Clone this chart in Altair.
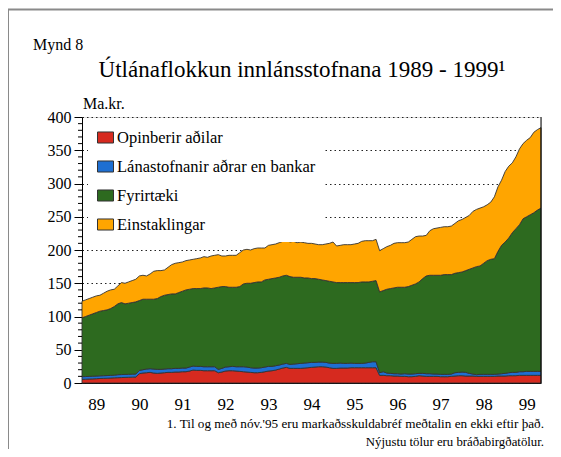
import altair as alt
import pandas as pd

# ---- categories & colours ----
flokkar = ["Opinberir aðilar", "Lánastofnanir aðrar en bankar", "Fyrirtæki", "Einstaklingar"]
litir = ["#d62a1f", "#1e6fd2", "#2d6a1f", "#ffa500"]

# ---- monthly values, Feb 1989 - Oct 1999 (Ma.kr.) ----
opinberir = [
    5.5, 5.7, 6, 6.2, 6.5, 6.8, 7, 7.2, 7.5, 7.8,
    8, 8.2, 8.4, 8.6, 8.8, 9, 14,
    15, 15.5, 16,
    15, 14.5, 15, 15.5, 16, 16, 16.5, 16.5, 17, 17,
    18, 19.5, 19, 19, 18.5, 18.5, 18.5, 18.5,
    15.5, 16.5, 18, 18.5, 18.5, 18, 17.5,
    17, 16.5, 16, 15.5, 15.5, 16, 17, 18,
    18.5, 19.5, 21, 22.5, 23.5,
    22, 22, 22, 22, 22.5, 23, 23.5, 24, 24.5,
    24.5, 24, 23, 22, 22, 22.5,
    22.5, 22.5, 23, 23, 23, 23, 23, 23, 23, 23,
    11.5, 11.5, 11, 11, 10.5, 10.5, 10, 10, 9.5, 9.5,
    10, 11, 10.5, 10, 10, 10, 10, 9.5, 9.5, 9.5,
    10, 10.5, 11, 11, 10.5, 10.5, 10.5, 10, 10, 10,
    10, 10, 10, 10.5, 10.5, 10.5, 11, 11, 11, 11.5,
    11.5, 11.5, 11.5, 11.5, 11.5, 11.5,
]
lanastofnanir = [
    4, 4, 4, 4, 4, 4, 4, 4, 4, 4,
    4.5, 4.5, 4.5, 4.5, 4.5, 4.5, 5,
    5, 5.5, 5.5,
    6, 6, 5.5, 5.5, 5.5, 5.5, 5.5, 5.5, 5.5, 5.5,
    6, 6, 6, 6, 6, 6, 6, 6,
    5, 5.5, 6, 6, 6.5, 6.5, 7,
    7.5, 7.5, 7, 7, 7, 7, 7, 7,
    6.5, 6.5, 6, 6, 6,
    6, 6.5, 7, 7.5, 7.5, 7.5, 7.5, 7, 7,
    7, 7, 7, 7.5, 7.5, 7.5,
    7, 7, 7, 6.5, 6.5, 6.5, 7, 8, 9, 9,
    4, 5.5, 4, 3.5, 3.5, 3.5, 3.5, 4, 4, 4,
    4, 3.5, 4, 4, 4, 3.5, 3.5, 3.5, 3.5, 3.5,
    3.5, 5, 5, 5.5, 5.5, 4, 3, 2.5, 3, 3,
    3, 3, 3, 3, 3.5, 4, 4.5, 5, 5, 5.5,
    5.5, 6, 6, 6, 6, 6,
]
# read top edge of the green (Fyrirtaeki) band = sum of the three lower groups
summa_an_einstaklinga = [
    98, 100, 102, 104, 106, 108, 109, 110, 112, 115,
    119, 121, 119, 120, 121, 122, 124, 126, 126, 126,
    126, 127, 130, 132, 133, 134, 134, 136, 138, 140,
    141, 142, 142, 142, 143, 143, 142, 143, 144, 145,
    145, 144, 144, 144, 145, 149, 150, 150, 151, 152,
    152, 155, 156, 157, 158, 159, 161, 162, 160, 159,
    159, 159, 158, 158, 157, 157, 156, 155, 154, 153,
    152, 151, 151, 151, 151, 151, 151, 151, 152, 152,
    152, 153, 154, 137, 139, 141, 142, 143, 144, 144,
    144, 145, 147, 149, 152, 157, 161, 162, 162, 162,
    162, 163, 163, 163, 165, 166, 167, 169, 171, 173,
    175, 176, 180, 184, 186, 187, 198, 207, 212, 218,
    226, 232, 238, 247, 250, 253, 256, 260, 263,
]
# read top edge of the whole stack = total lending
heild = [
    123, 125, 127, 129, 131, 132, 135, 138, 140, 141,
    146, 151, 150, 152, 154, 156, 161, 162, 161, 164,
    168, 169, 169, 170, 174, 178, 180, 181, 182, 184,
    185, 186, 187, 188, 190, 189, 191, 192, 193, 191,
    191, 192, 192, 192, 196, 200, 201, 200, 202, 203,
    203, 203, 207, 208, 209, 211, 213, 215, 212, 213,
    211, 212, 211, 210, 210, 209, 208, 208, 209, 210,
    212, 206, 207, 208, 208, 208, 209, 210, 213, 214,
    214, 214, 216, 199, 202, 205, 207, 210, 211, 211,
    211, 212, 216, 220, 221, 221, 222, 229, 232, 233,
    234, 235, 235, 236, 240, 244, 246, 249, 252, 258,
    261, 263, 265, 268, 272, 280, 295, 305, 318, 326,
    331, 340, 352, 360, 365, 369, 377, 381, 384,
]

ar_merki = [1989.5 + i for i in range(11)]
y_merki = list(range(0, 401, 50))
minni_merki = [v for v in range(0, 401, 10) if v % 50 != 0]

n = len(heild)
timi = [1989 + (2 + k) / 12 for k in range(n)]  # end of month, Feb 1989 ...

rows = []
for k in range(n):
    o = opinberir[k]
    l = lanastofnanir[k]
    f = summa_an_einstaklinga[k] - o - l
    e = heild[k] - summa_an_einstaklinga[k]
    for i, (nafn, v) in enumerate(zip(flokkar, [o, l, f, e])):
        rows.append({"t": timi[k], "flokkur": nafn, "gildi": v, "rod": i})
df = pd.DataFrame(rows)

FONT = "Liberation Serif"
W, H = 459, 266

y_scale = alt.Scale(domain=[0, 400], nice=False)
y_axis = alt.Axis(values=y_merki, tickSize=8, tickColor="black",
                  grid=True, gridDash=[1.5, 3], gridColor="#222222",
                  gridWidth=1, title=None, domainColor="black",
                  labelFontSize=16, labelFont=FONT, labelColor="black",
                  labelPadding=3)

areas = alt.Chart(df).mark_area(stroke="#333333", strokeWidth=0.9, opacity=1).encode(
    x=alt.X("t:Q",
            scale=alt.Scale(domain=[timi[0], timi[-1]], nice=False, zero=False),
            axis=alt.Axis(values=ar_merki,
                          labelExpr="substring(toString(datum.value), 2, 4)",
                          tickSize=0, labelPadding=13, grid=False, title=None,
                          domainColor="black", labelFontSize=17, labelFont=FONT,
                          labelColor="black")),
    y=alt.Y("gildi:Q", stack="zero", scale=y_scale, axis=y_axis),
    color=alt.Color("flokkur:N",
                    scale=alt.Scale(domain=flokkar, range=litir),
                    legend=alt.Legend(title=None, orient="none", legendX=6, legendY=3,
                                      fillColor="white", padding=9, rowPadding=12,
                                      labelFont=FONT, labelFontSize=16.5, labelColor="black",
                                      labelLimit=320, labelOffset=3,
                                      symbolType="M-1,-0.69H1V0.69H-1Z", symbolSize=256,
                                      symbolStrokeColor="#333333", symbolStrokeWidth=1,
                                      symbolOpacity=1)),
    order=alt.Order("rod:Q"),
)

minor = alt.Chart(pd.DataFrame({"v": minni_merki})).mark_rule(color="black", strokeWidth=1).encode(
    y=alt.Y("v:Q", scale=y_scale, axis=y_axis),
    x=alt.value(-4), x2=alt.value(0),
)

one = pd.DataFrame({"a": [0]})
right_border = alt.Chart(one).mark_rule(color="black", strokeWidth=1).encode(
    x=alt.value(W), y=alt.value(0), y2=alt.value(H))
frame_top = alt.Chart(one).mark_rule(color="#8a8a8a", strokeWidth=2).encode(
    x=alt.value(-74), x2=alt.value(471), y=alt.value(-107.5))
frame_left = alt.Chart(one).mark_rule(color="#8a8a8a", strokeWidth=2).encode(
    x=alt.value(-74), y=alt.value(-107.5), y2=alt.value(340))


def txt(s, x, y, size, align="left"):
    return alt.Chart(one).mark_text(font=FONT, fontSize=size, align=align,
                                    baseline="alphabetic", color="black").encode(
        x=alt.value(x), y=alt.value(y), text=alt.value(s))


texts = [
    txt("Mynd 8", -49, -67, 16),
    txt("Útlánaflokkun innlánsstofnana 1989 - 1999¹", 220, -40, 23, "center"),
    txt("Ma.kr.", 1, -8, 16),
    txt("1. Til og með nóv.'95 eru markaðsskuldabréf meðtalin en ekki eftir það.", 462, 311, 13.2, "right"),
    txt("Nýjustu tölur eru bráðabirgðatölur.", 462, 329, 12.8, "right"),
]

chart = alt.layer(areas, minor, right_border, frame_top, frame_left, *texts).properties(
    width=W, height=H,
    autosize=alt.AutoSizeParams(type="none"),
    padding={"left": 74, "top": 109, "right": 12, "bottom": 66},
).configure_view(strokeWidth=0).configure(font=FONT)

chart.save("out.html", embed_options={"renderer": "svg", "actions": False})
